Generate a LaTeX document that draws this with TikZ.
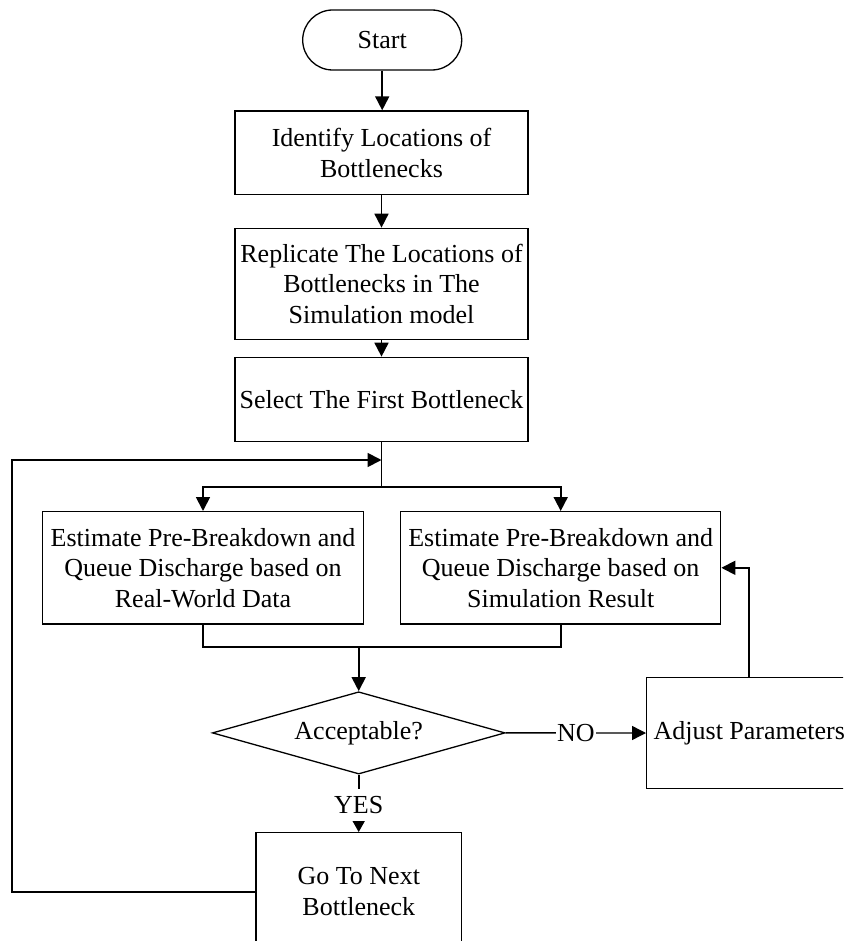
\documentclass[tikz,border=0pt]{standalone}
\usepackage{fontspec}
\setmainfont{Liberation Serif}
\usetikzlibrary{shapes.geometric,arrows.meta}
\begin{document}
\begin{tikzpicture}[x=1pt,y=-1pt,
  every node/.style={font=\fontsize{26}{30.5}\selectfont, align=center, inner sep=0pt},
  shapeline/.style={draw, line width=1.3pt},
  procbox/.style={shapeline, rectangle},
  link/.style={line width=1.8pt},
  conn/.style={link, -{Triangle[length=14pt,width=14pt]}},
  lbl/.style={fill=white}
]
\useasboundingbox (0,0) rectangle (843,941);
\fill[white] (0,0) rectangle (843,941);
\clip (0,0) rectangle (843,941);

% terminal and process steps
\node[shapeline, rounded corners=30pt, minimum width=159pt, minimum height=60pt] (start) at (382.2,40) {Start};
\node[procbox, minimum width=293pt, minimum height=83.7pt] (b1) at (381.5,152.8) {Identify Locations of\\Bottlenecks};
\node[procbox, minimum width=293pt, minimum height=111pt] (b2) at (381.5,283.8) {Replicate The Locations of\\Bottlenecks in The\\Simulation model};
\node[procbox, minimum width=293pt, minimum height=84.4pt] (b3) at (381.5,399.5) {Select The First Bottleneck};
\node[procbox, minimum width=320.6pt, minimum height=112.3pt] (est1) at (203,567.8) {Estimate Pre-Breakdown and\\Queue Discharge based on\\Real-World Data};
\node[procbox, minimum width=320pt, minimum height=112.3pt] (est2) at (560.7,567.8) {Estimate Pre-Breakdown and\\Queue Discharge based on\\Simulation Result};
\node[shapeline, diamond, aspect=3.56, minimum width=292.7pt, minimum height=82.3pt] (dec) at (358.7,732.9) {Acceptable?};
\node[procbox, minimum width=205.3pt, minimum height=110.6pt] (adj) at (749.3,733) {Adjust Parameters};
\node[procbox, minimum width=205.7pt, minimum height=118pt] (goto) at (358.8,891.7) {Go To Next\\Bottleneck};

% junction points
\coordinate (split) at (381.5,487.3);
\coordinate (loopin) at (381.5,460);
\coordinate (merge) at (358.7,647.3);

% main flow
\draw[conn] (start.south) -- (start.south |- b1.north);
\draw[conn] (b1.south) -- (b1.south |- b2.north);
\draw[conn] (b2.south) -- (b2.south |- b3.north);
\draw[link] (b3.south) -- (split);
\draw[conn] (split) -| (est1.north);
\draw[conn] (split) -| (est2.north);
\draw[link] (est1.south) |- (merge);
\draw[link] (est2.south) |- (merge);
\draw[conn] (merge) -- (merge |- dec.north);

% decision branches
\draw[conn, line width=1.4pt] (dec.east) -- node[lbl, inner xsep=1pt] {NO} (adj.west);
\draw[link, -{Triangle[length=12pt,width=13pt]}] (dec.south) -- node[lbl, pos=0.53, inner xsep=2pt, inner ysep=7.5pt] {YES} (dec.south |- goto.north);
\draw[conn] (adj.north) |- (est2.east);
\draw[conn] (goto.west) -| (12.3,460) -- (loopin);
\end{tikzpicture}
\end{document}
